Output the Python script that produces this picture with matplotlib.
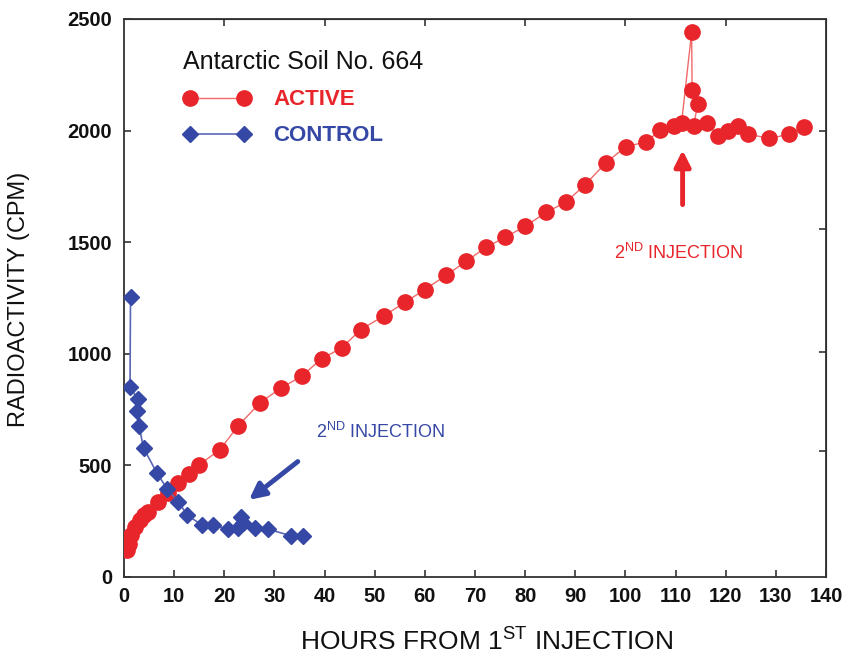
import matplotlib
matplotlib.use("Agg")
import matplotlib.pyplot as plt
from matplotlib import font_manager

# Antarctic soil No. 664 - labelled release, active vs control
active_hours = [0.6, 0.9, 1.4, 2.1, 3.1, 3.9, 4.8, 6.8, 8.8, 10.8, 13.0, 15.0, 19.1, 22.8,
                27.1, 31.3, 35.4, 39.4, 43.4, 47.2, 51.9, 56.0, 60.0, 64.2, 68.2, 72.2,
                76.0, 80.0, 84.2, 88.1, 91.9, 96.1, 100.1, 104.2, 106.9, 109.6, 111.2,
                113.2, 113.3, 114.4, 113.6, 116.2, 118.5, 120.5, 122.5, 124.5, 128.7,
                132.7, 135.7]
active_cpm = [121, 150, 188, 226, 256, 278, 293, 338, 378, 420, 462, 503, 570, 678,
              780, 847, 899, 978, 1026, 1108, 1171, 1230, 1288, 1351, 1414, 1477,
              1522, 1571, 1634, 1679, 1756, 1856, 1928, 1950, 2002, 2021, 2036,
              2440, 2181, 2118, 2021, 2036, 1976, 1998, 2021, 1984, 1965,
              1984, 2017]

control_hours = [1.3, 1.2, 2.7, 2.5, 3.0, 3.9, 6.5, 8.6, 10.8, 12.6, 15.5, 17.8, 20.8,
                 22.8, 23.4, 23.8, 26.2, 28.8, 33.4, 35.6]
control_cpm = [1255, 851, 798, 742, 678, 578, 468, 395, 338, 278, 233, 233, 214,
               218, 268, 241, 218, 214, 184, 184]

x_ticks = list(range(0, 141, 10))
y_ticks = [0, 500, 1000, 1500, 2000, 2500]

RED = "#e8252a"
RED_LINE = "#f06a6a"
BLUE = "#3548a5"
BLUE_LINE = "#5a66b6"

plt.rcParams['font.family'] = ['Liberation Sans', 'DejaVu Sans']
plt.rcParams['mathtext.default'] = 'regular'

names = {f.name for f in font_manager.fontManager.ttflist}
if 'Liberation Sans Narrow' in names:
    ann_font = ['Liberation Sans Narrow', 'Liberation Sans']
    ann_size = 15
else:
    ann_font = ['Liberation Sans', 'DejaVu Sans']
    ann_size = 13

fig = plt.figure(figsize=(8.48, 6.58), dpi=100)
ax = fig.add_axes([124 / 848, 1 - 577 / 658, 702 / 848, 558 / 658])

ax.plot(active_hours, active_cpm, '-', color=RED_LINE, lw=1.0, marker='o', ms=11,
        mfc=RED, mec=RED, label='ACTIVE', zorder=3)
ax.plot(control_hours, control_cpm, '-', color=BLUE_LINE, lw=1.2, marker='D', ms=8.5,
        mfc=BLUE, mec=BLUE, label='CONTROL', zorder=4)

ax.set_xlim(0, 140)
ax.set_ylim(0, 2500)
ax.set_xticks(x_ticks)
ax.set_yticks(y_ticks)
ax.tick_params(direction='in', length=5, width=1.2, colors='#333333',
               labelcolor='#111111', labelsize=14.5)
ax.tick_params(axis='x', pad=7)
ax.tick_params(axis='y', pad=8.5)
for lab in ax.get_xticklabels() + ax.get_yticklabels():
    lab.set_fontweight('bold')
for sp in ax.spines.values():
    sp.set_color('#333333')
    sp.set_linewidth(1.3)

# extra ticks on the top and right frame
top = ax.secondary_xaxis('top')
top.set_xticks(list(range(20, 121, 20)))
top.tick_params(direction='in', length=5, width=1.2, colors='#333333', labeltop=False)
right = ax.secondary_yaxis('right')
right.set_yticks([565, 1010, 1560, 2000])
right.tick_params(direction='in', length=5, width=1.2, colors='#333333', labelright=False)

ax.set_xlabel(r'HOURS FROM 1$^{\mathregular{ST}}$ INJECTION', fontsize=19, color='#111111')
ax.xaxis.set_label_coords(0.516, -0.092)
ax.set_ylabel('RADIOACTIVITY (CPM)', fontsize=17, color='#111111')
ax.yaxis.set_label_coords(-0.134, 0.497)

leg = ax.legend(loc='upper left', bbox_to_anchor=(0.084, 0.944), borderaxespad=0,
                borderpad=0, frameon=False, numpoints=2, handlelength=3.05,
                handletextpad=1.0, labelspacing=0.68, labelcolor='markerfacecolor',
                prop={'size': 16, 'weight': 'bold'},
                title='Antarctic Soil No. 664',
                title_fontproperties={'size': 18}, alignment='left')
leg.get_title().set_color('#111111')

# second injection markers
ax.annotate('', xy=(111.4, 1925), xytext=(111.4, 1656),
            arrowprops=dict(arrowstyle='-|>', lw=3.5, color=RED, mutation_scale=24))
ax.text(110.7, 1454, r'2$^{\mathregular{ND}}$ INJECTION', color=RED, ha='center',
        va='center', fontsize=ann_size, family=ann_font)

ax.annotate('', xy=(24.5, 338), xytext=(35.1, 525),
            arrowprops=dict(arrowstyle='-|>', lw=3.5, color=BLUE, mutation_scale=24))
ax.text(51.3, 651, r'2$^{\mathregular{ND}}$ INJECTION', color=BLUE, ha='center',
        va='center', fontsize=ann_size, family=ann_font)

fig.savefig('out.png', dpi=100)
